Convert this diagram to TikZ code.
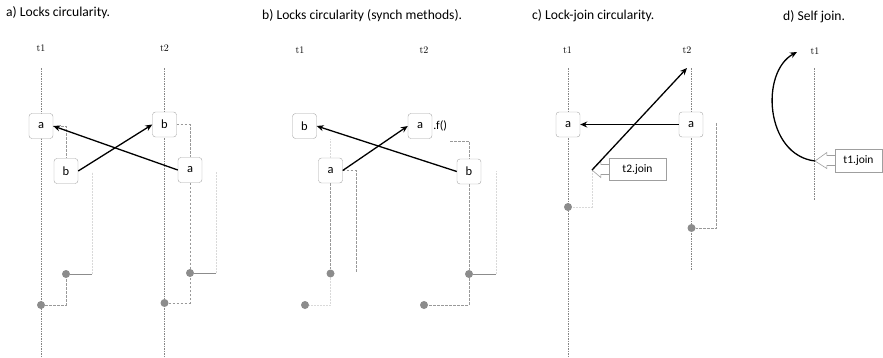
\documentclass[tikz,border=0pt]{standalone}
\usepackage{fontspec}
\setsansfont{Carlito}
\usetikzlibrary{arrows.meta}
\begin{document}
\begin{tikzpicture}[x=1pt,y=-1pt,
  lock/.style={draw=gray!70, rounded corners=3pt, minimum width=24pt, minimum height=25pt, fill=white, inner sep=0pt, font=\sffamily\fontsize{12.5}{12.5}\selectfont},
  callbox/.style={draw=gray!75, fill=white, minimum height=22pt, inner sep=2pt, font=\sffamily\fontsize{11.5}{11.5}\selectfont},
  ptr/.style={draw=gray!75, fill=white, line width=0.6pt},
  life/.style={draw=gray!95, dash pattern=on 1.5pt off 1pt, line width=0.65pt},
  dsh/.style={draw=gray!80, dash pattern=on 2.5pt off 1.5pt, line width=0.6pt},
  faint/.style={draw=gray!30, dash pattern=on 2pt off 1pt, line width=0.6pt},
  sol/.style={draw=gray!90, line width=0.9pt},
  dot/.style={circle, fill=gray!90, minimum size=8pt, inner sep=0pt},
  arr/.style={-{Stealth[length=7pt,width=6pt]}, line width=1.3pt, black},
  thr/.style={font=\fontsize{10}{10}\selectfont, inner sep=0pt},
  ttl/.style={anchor=west, inner sep=0pt, font=\sffamily\fontsize{13.6}{14}\selectfont},
  fl/.style={anchor=west, inner sep=1pt, font=\sffamily\fontsize{12}{12}\selectfont}
]
\useasboundingbox (0,0) rectangle (883,357);

% ---------------- panel a ----------------
\node[ttl] (ta) at (6,13) {a) Locks circularity.};
\node[thr] (a1) at (41,48) {t1};
\node[thr] (a2) at (164.5,48) {t2};
\coordinate (a1top) at (41,68);
\coordinate (a1bot) at (41,357);
\coordinate (a2top) at (164.5,68);
\coordinate (a2bot) at (164.5,357);
\draw[life] (a1top) -- (a1bot);
\draw[life] (a2top) -- (a2bot);
\node[dot] (da1) at (66,274) {};
\node[dot] (da2) at (41,305) {};
\node[dot] (da3) at (190,273) {};
\node[dot] (da4) at (164.5,303) {};
\coordinate (ae1) at (92,274);
\coordinate (af1) at (92,172);
\coordinate (ae2) at (216,273);
\coordinate (af2) at (216,172);
\draw[faint] (ae1) -- (af1);
\draw[faint] (ae2) -- (af2);
\draw[sol] (da1) -- (ae1);
\draw[sol] (da3) -- (ae2);
\draw[dsh] (da2) -| (da1);
\draw[dsh] (da4) -| (da3);
\node[lock] (aa1) at (41,126) {a};
\node[lock] (ab1) at (66,171) {b};
\node[lock] (ab2) at (164.5,124.5) {b};
\node[lock] (aa2) at (190,170) {a};
\draw[dsh] (aa1.east) -| (ab1.north);
\draw[dsh] (ab2.east) -| (aa2.north);
\draw[dsh] (aa2.south) -- (da3);
\draw[arr] (ab1.east) -- (ab2.west);
\draw[arr] (aa2.west) -- (aa1.east);

% ---------------- panel b ----------------
\node[ttl] (tb) at (262,16) {b) Locks circularity (synch methods).};
\node[thr] (b1) at (300,50) {t1};
\node[thr] (b2) at (424,50) {t2};
\node[dot] (bd1) at (330.5,273.5) {};
\node[dot] (bd2) at (305,305) {};
\node[dot] (bd3) at (469,274) {};
\node[dot] (bd4) at (424,305) {};
\coordinate (bc1) at (356,273);
\coordinate (bc2) at (450,141);
\coordinate (be) at (496,274);
\coordinate (bf) at (496,171);
\draw[faint] (be) -- (bf);
\draw[sol] (bd3) -- (be);
\draw[faint] (bd1) |- (bd2);
\draw[dsh] (bd3) |- (bd4);
\node[lock] (bb1) at (304.5,126) {b};
\node[lock] (ba1) at (330.5,170.5) {a};
\node[lock] (ba2) at (420,126) {a};
\node[lock] (bb2) at (469,171.5) {b};
\node[fl] (bfl) at (ba2.east) {.f()};
\draw[faint] (ba1.north) -- (ba1.north |- bb1.south);
\draw[dsh] (ba1.east) -| (bc1);
\draw[dsh] (bc2) -| (bb2.north);
\draw[dsh] (ba1.south) -- (bd1);
\draw[dsh] (bb2.south) -- (bd3);
\draw[arr] (ba1.east) -- (ba2.west);
\draw[arr] (bb2.west) -- (bb1.east);

% ---------------- panel c ----------------
\node[ttl] (tc) at (532,16) {c) Lock-join circularity.};
\node[thr] (c1) at (567.5,50) {t1};
\node[thr] (c2) at (687,50) {t2};
\coordinate (c1top) at (568,68);
\coordinate (c1bot) at (568,357);
\coordinate (c2top) at (691.5,68);
\coordinate (c2bot) at (691.5,270);
\draw[life] (c1top) -- (c1bot);
\draw[life] (c2top) -- (c2bot);
\node[dot] (cd1) at (568,207) {};
\node[dot] (cd2) at (691.5,228) {};
\coordinate (ctip) at (592,170);
\coordinate (cend) at (687,68);
\coordinate (cr) at (716.5,123);
\draw[faint] (ctip) |- (cd1);
\draw[dsh] (cr) |- (cd2);
\node[lock] (ca1) at (568,124.5) {a};
\node[lock] (ca2) at (691,124.5) {a};
\node[callbox, minimum width=57pt] (cj) at (637.5,169.5) {t2.join};
\draw[ptr] ([yshift=5pt]cj.west) -- ([xshift=-8pt,yshift=5pt]cj.west) -- ([xshift=-8pt,yshift=8pt]cj.west) -- (ctip) -- ([xshift=-8pt,yshift=-8pt]cj.west) -- ([xshift=-8pt,yshift=-5pt]cj.west) -- ([yshift=-5pt]cj.west);
\draw[arr] (ca2.west) -- (ca1.east);
\draw[arr] (ctip) -- (cend);

% ---------------- panel d ----------------
\node[ttl] (td) at (783,16.5) {d) Self join.};
\node[thr] (d1) at (815,51.5) {t1};
\coordinate (d1top) at (814,68);
\coordinate (d1bot) at (814,200);
\draw[life] (d1top) -- (d1bot);
\coordinate (dtip) at (815,161);
\coordinate (dend) at (797,52);
\node[callbox, minimum width=47pt, minimum height=22.5pt] (dj) at (858.5,160.5) {t1.join};
\draw[ptr] ([yshift=5pt]dj.west) -- ([xshift=-8pt,yshift=5pt]dj.west) -- ([xshift=-8pt,yshift=8pt]dj.west) -- (dtip) -- ([xshift=-8pt,yshift=-8pt]dj.west) -- ([xshift=-8pt,yshift=-5pt]dj.west) -- ([yshift=-5pt]dj.west);
\draw[arr] (dtip) .. controls (765,155) and (760,72) .. (dend);
\end{tikzpicture}
\end{document}
